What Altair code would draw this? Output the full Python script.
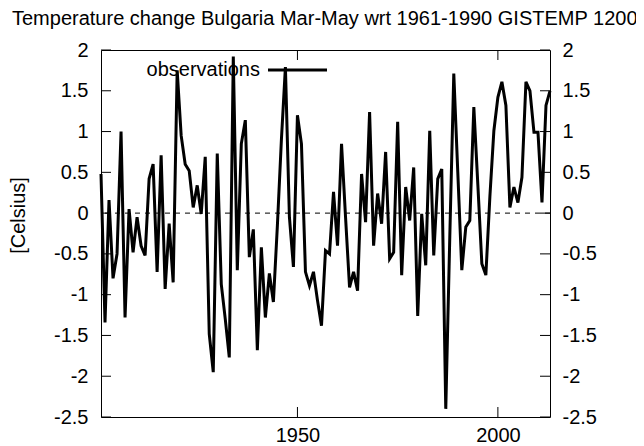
import altair as alt
import pandas as pd

years = list(range(1901, 2014))
values = [
    0.48, -1.34, 0.16, -0.80, -0.50, 1.00, -1.28, 0.05, -0.48, -0.05,   # 1901-1910
    -0.40, -0.52, 0.42, 0.60, -0.72, 0.71, -0.93, -0.13, -0.85, 1.75,   # 1911-1920
    0.95, 0.60, 0.52, 0.07, 0.34, -0.01, 0.69, -1.48, -1.95, 0.73,      # 1921-1930
    -0.87, -1.30, -1.77, 1.92, -0.70, 0.85, 1.14, -0.54, -0.20, -1.68,  # 1931-1940
    -0.42, -1.28, -0.74, -1.09, -0.15, 0.90, 1.79, -0.05, -0.66, 1.20,  # 1941-1950
    0.85, -0.72, -0.89, -0.72, -1.07, -1.38, -0.46, -0.50, 0.26, -0.40, # 1951-1960
    0.85, -0.05, -0.91, -0.72, -0.95, 0.48, -0.11, 1.24, -0.40, 0.24,   # 1961-1970
    -0.13, 0.75, -0.56, -0.48, 1.12, -0.76, 0.32, -0.09, 0.56, -1.26,   # 1971-1980
    -0.01, -0.64, 1.01, -0.52, 0.42, 0.54, -2.40, -0.30, 1.71, 0.50,    # 1981-1990
    -0.70, -0.17, -0.09, 1.30, 0.35, -0.62, -0.76, 0.20, 1.01, 1.42,    # 1991-2000
    1.61, 1.32, 0.07, 0.32, 0.13, 0.44, 1.61, 1.50, 0.99, 0.99,         # 2001-2010
    0.13, 1.32, 1.50,                                                   # 2011-2013
]
y_ticks = [-2.5, -2, -1.5, -1, -0.5, 0, 0.5, 1, 1.5, 2]
x_ticks = [1950, 2000]
title_text = ["Temperature change Bulgaria Mar-May wrt 1961-1990 GISTEMP 1200"]
y_title = "[Celsius]"
legend_label = ["observations"]

W, H = 449, 367
FONT = "Liberation Sans"
FS = 20

df = pd.DataFrame({"year": years, "value": values})
ydf = pd.DataFrame({"v": y_ticks})
xdf = pd.DataFrame({"yr": x_ticks})
zdf = pd.DataFrame({"v": [0]})

xs = alt.Scale(domain=[1901, 2013], nice=False, zero=False)
ys = alt.Scale(domain=[-2.5, 2], nice=False, zero=False)

axis_common = dict(
    grid=False, domain=False, ticks=False,
    labelFont=FONT, labelFontSize=FS, labelColor="black",
    labelExpr="toString(datum.value)",
)

zero_line = alt.Chart(zdf).mark_rule(color="black", strokeWidth=1, strokeDash=[5, 5]).encode(
    y=alt.Y("v:Q", scale=ys, axis=None)
)

line = alt.Chart(df).mark_line(color="black", strokeWidth=3).encode(
    x=alt.X("year:Q", scale=xs,
            axis=alt.Axis(values=x_ticks, orient="bottom", title=None, labelPadding=8,
                          **axis_common)),
    y=alt.Y("value:Q", scale=ys,
            axis=alt.Axis(values=y_ticks, orient="left", labelPadding=13,
                          title=y_title, titleFont=FONT, titleFontSize=FS,
                          titleFontWeight="normal", titleColor="black",
                          titleX=-73, titleY=165, **axis_common)),
)

right_axis = alt.Chart(ydf).mark_point(opacity=0).encode(
    y=alt.Y("v:Q", scale=ys,
            axis=alt.Axis(values=y_ticks, orient="right", labelPadding=12, title=None,
                          **axis_common)),
)

left_ticks = alt.Chart(ydf).mark_rule(color="black", strokeWidth=1).encode(
    y=alt.Y("v:Q", scale=ys, axis=None), x=alt.value(0), x2=alt.value(10)
)
right_ticks = alt.Chart(ydf).mark_rule(color="black", strokeWidth=1).encode(
    y=alt.Y("v:Q", scale=ys, axis=None), x=alt.value(W - 10), x2=alt.value(W)
)
bottom_ticks = alt.Chart(xdf).mark_rule(color="black", strokeWidth=1).encode(
    x=alt.X("yr:Q", scale=xs, axis=None), y=alt.value(H), y2=alt.value(H - 10)
)
top_ticks = alt.Chart(xdf).mark_rule(color="black", strokeWidth=1).encode(
    x=alt.X("yr:Q", scale=xs, axis=None), y=alt.value(0), y2=alt.value(10)
)

legend_text = alt.Chart(pd.DataFrame({"label": legend_label})).mark_text(
    align="right", baseline="middle", font=FONT, fontSize=FS, color="black"
).encode(x=alt.value(159), y=alt.value(20), text="label:N")

legend_line = alt.Chart(pd.DataFrame({"label": legend_label})).mark_rule(
    color="black", strokeWidth=3
).encode(x=alt.value(167), x2=alt.value(226), y=alt.value(20))

title = alt.Chart(pd.DataFrame({"t": title_text})).mark_text(
    align="left", baseline="middle", font=FONT, fontSize=FS, color="black"
).encode(x=alt.value(-89), y=alt.value(-31), text="t:N")

chart = alt.layer(
    zero_line, line, right_axis, left_ticks, right_ticks, bottom_ticks, top_ticks,
    legend_line, legend_text, title,
).resolve_axis(x="independent", y="independent").properties(
    width=W, height=H, autosize="none",
    padding={"left": 93, "top": 42, "right": 86, "bottom": 29},
    background="white",
).configure_view(stroke="black", strokeWidth=1)

chart.save("out.html", embed_options={"renderer": "svg", "actions": False})
